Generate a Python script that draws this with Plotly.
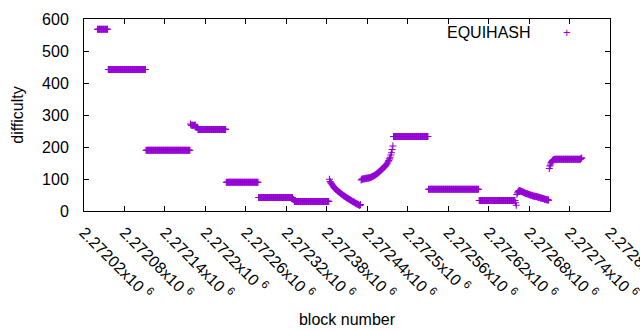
import plotly.graph_objects as go

# ---- data ----
first_block = 2272040

falling_curve = [99, 92, 88, 85, 82, 79, 76, 73, 71, 69, 67, 65, 63, 61, 59, 58,
                 56, 54, 53, 51, 50, 48, 47, 45, 44, 42, 41, 40, 38, 37, 36, 34,
                 33, 32, 30, 29, 28, 27, 25, 24, 23, 22, 21, 20, 18, 17, 20]
rising_curve = [97, 99, 100, 100, 101, 101, 101, 102, 102, 102, 103, 103, 104, 104,
                105, 106, 107, 108, 109, 110, 111, 113, 114, 116, 118, 119, 121,
                123, 125, 127, 129, 131, 133, 135, 137, 139, 141, 144, 147, 150,
                154, 158, 163, 168, 175, 182, 192, 203]
second_falling = [52, 57, 61, 63, 64, 63, 62, 61, 60, 59, 58, 57, 56, 55, 55, 54,
                  53, 52, 51, 51, 50, 49, 49, 48, 47, 47, 46, 46, 45, 45, 44, 44,
                  43, 43, 42, 41, 41, 40, 39, 39, 38, 37, 37, 36, 35, 35, 34, 34]
second_rising = [133, 141, 147, 152, 155, 158, 160, 161]

difficulty = ([568] * 16 + [442] * 56 + [190] * 66
              + [272] + [268] * 7 + [262] * 3 + [255] * 42
              + [90] * 48 + [42] * 51 + [36] * 2 + [30] * 52
              + falling_curve + rising_curve
              + [233] * 52 + [68] * 75 + [33] * 54 + [26, 18]
              + second_falling + second_rising + [162] * 39 + [164, 166])
block_number = list(range(first_block, first_block + len(difficulty)))

x_tick_values = [2272020 + 60 * k for k in range(14)]
x_tick_labels = ["2.27202", "2.27208", "2.27214", "2.2722", "2.27226", "2.27232",
                 "2.27238", "2.27244", "2.2725", "2.27256", "2.27262", "2.27268",
                 "2.27274", "2.2728"]
series_name = "EQUIHASH"

# ---- figure ----
COLOR = "#9400D3"
FONT = "Liberation Sans"

fig = go.Figure()
fig.add_trace(go.Scatter(
    x=block_number, y=difficulty, mode="markers", name=series_name,
    marker=dict(symbol="cross-thin", size=5, color=COLOR,
                line=dict(color=COLOR, width=1.1)),
    showlegend=False,
))

fig.update_layout(
    width=640, height=330,
    margin=dict(l=84, r=30, t=19, b=119, autoexpand=False),
    paper_bgcolor="white", plot_bgcolor="white",
    font=dict(family=FONT, size=16, color="black"),
    xaxis=dict(
        range=[2272020, 2272800], tickvals=x_tick_values,
        ticktext=[t + "x10 <sup>6</sup>" for t in x_tick_labels],
        tickangle=45, ticks="inside", ticklen=5, tickcolor="black",
        showline=True, linecolor="black", linewidth=1, mirror="ticks",
        showgrid=False, zeroline=False, automargin=False,
        ticklabelstandoff=5, ticklabeloverflow="allow",
        tickfont=dict(family=FONT, size=16),
        title=dict(text="block number", standoff=12, font=dict(size=16)),
    ),
    yaxis=dict(
        range=[0, 600], dtick=100, ticks="inside", ticklen=5, tickcolor="black",
        showline=True, linecolor="black", linewidth=1, mirror="ticks",
        showgrid=False, zeroline=False, automargin=False,
        ticklabelstandoff=11,
        title=dict(text="difficulty", standoff=14, font=dict(size=16)),
    ),
    annotations=[
        dict(xref="paper", yref="paper", x=(533 - 84) / 526, y=(211 - 32) / 192,
             text=series_name, showarrow=False, xanchor="right", yanchor="middle",
             font=dict(family=FONT, size=16, color="black")),
        dict(xref="paper", yref="paper", x=(567 - 84) / 526, y=(211 - 32) / 192,
             text="+", showarrow=False, xanchor="center", yanchor="middle",
             font=dict(family=FONT, size=13, color=COLOR)),
    ],
)

fig.write_html("out.html")
